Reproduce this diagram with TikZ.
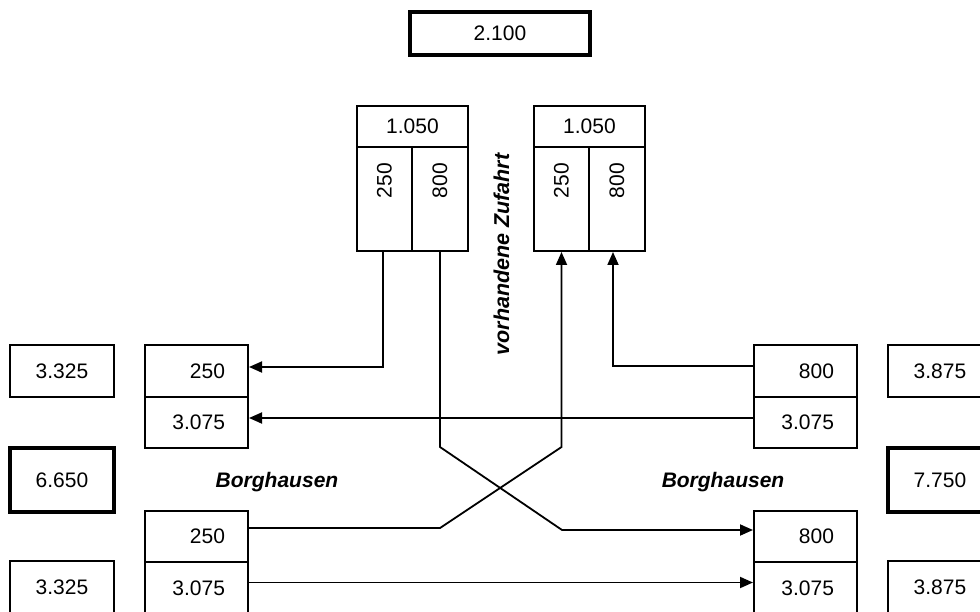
\documentclass[tikz,border=0pt]{standalone}
\usepackage{fontspec}
\setmainfont{Liberation Sans}
\usetikzlibrary{arrows.meta}
\begin{document}
\begin{tikzpicture}[x=1pt,y=-1pt,
  box/.style={draw, line width=2pt, inner sep=0pt, minimum height=52pt, minimum width=104pt, font=\fontsize{21}{25}\selectfont},
  thickbox/.style={box, line width=4.5pt},
  rbox/.style={box, inner xsep=23pt, text width=57pt, align=right, minimum width=103pt},
  colbox/.style={box, rotate=90, minimum height=55.5pt, minimum width=104pt, inner xsep=16pt, text width=72pt, align=right},
  conn/.style={draw, line width=1.8pt, -{Triangle[length=13pt,width=11pt]}},
  lbl/.style={font=\fontsize{21}{25}\selectfont\bfseries\itshape, inner sep=0pt}]
\useasboundingbox (0,0) rectangle (980,612);
\clip (0,0) rectangle (980,612);
\fill[white] (0,0) rectangle (980,612);

% top
\node[box, line width=3.8pt, minimum width=180pt, minimum height=43pt] (top) at (500,33.5) {2.100};

% upper left block
\node[box, minimum width=111pt, minimum height=41pt] (L1h) at (412.5,126.5) {1.050};
\node[colbox] (L1a) at (384.5,199) {250};
\node[colbox] (L1b) at (440,199) {800};
% upper right block
\node[box, minimum width=111pt, minimum height=41pt] (R1h) at (589.5,126.5) {1.050};
\node[colbox] (R1a) at (561.5,199) {250};
\node[colbox] (R1b) at (617,199) {800};

% left side
\node[box] (LL1) at (62,371) {3.325};
\node[rbox, minimum height=52pt] (LA) at (196.5,371) {250};
\node[rbox, minimum height=51pt] (LB) at (196.5,422.5) {3.075};
\node[thickbox, minimum height=64pt] (LT) at (62,480) {6.650};
\node[rbox, minimum height=51pt] (LC) at (196.5,536.5) {250};
\node[rbox, minimum height=52pt] (LD) at (196.5,588) {3.075};
\node[box] (LL2) at (62,587) {3.325};

% right side
\node[rbox, minimum height=52pt] (RA) at (805.5,371) {800};
\node[rbox, minimum height=51pt] (RB) at (805.5,422.5) {3.075};
\node[rbox, minimum height=51pt] (RC) at (805.5,536.5) {800};
\node[rbox, minimum height=52pt] (RD) at (805.5,588) {3.075};
\node[box] (RR1) at (940,371) {3.875};
\node[thickbox, minimum height=64pt] (RT) at (940,480) {7.750};
\node[box] (RR2) at (940,587) {3.875};

% labels
\node[lbl, anchor=base] (bl) at (277,487) {Borghausen};
\node[lbl, anchor=base] (br) at (723,487) {Borghausen};
\node[lbl, rotate=90, font=\fontsize{21.5}{25}\selectfont\bfseries\itshape] (vz) at (501.5,254.5) {vorhandene Zufahrt};

% crossing points
\coordinate (x1) at (440,447);
\coordinate (x2) at (562,530);
\coordinate (x3) at (440,528);
\coordinate (x4) at (561.5,447);

% connectors
\draw[conn] ([xshift=-1.5pt]L1a.west) |- ([yshift=4pt]LA.east);
\draw[conn] (L1b.west) -- (x1) -- (x2) -- ([yshift=6.5pt]RC.west);
\draw[conn] ([yshift=8.5pt]LC.east) -- (x3) -- (x4) -- (R1a.west);
\draw[conn] ([yshift=5pt]RA.west) -| ([xshift=-4pt]R1b.west);
\draw[conn] ([yshift=4.5pt]RB.west) -- ([yshift=4.5pt]LB.east);
\draw[conn] ([yshift=5.5pt]LD.east) -- ([yshift=5.5pt]RD.west);
\end{tikzpicture}
\end{document}
